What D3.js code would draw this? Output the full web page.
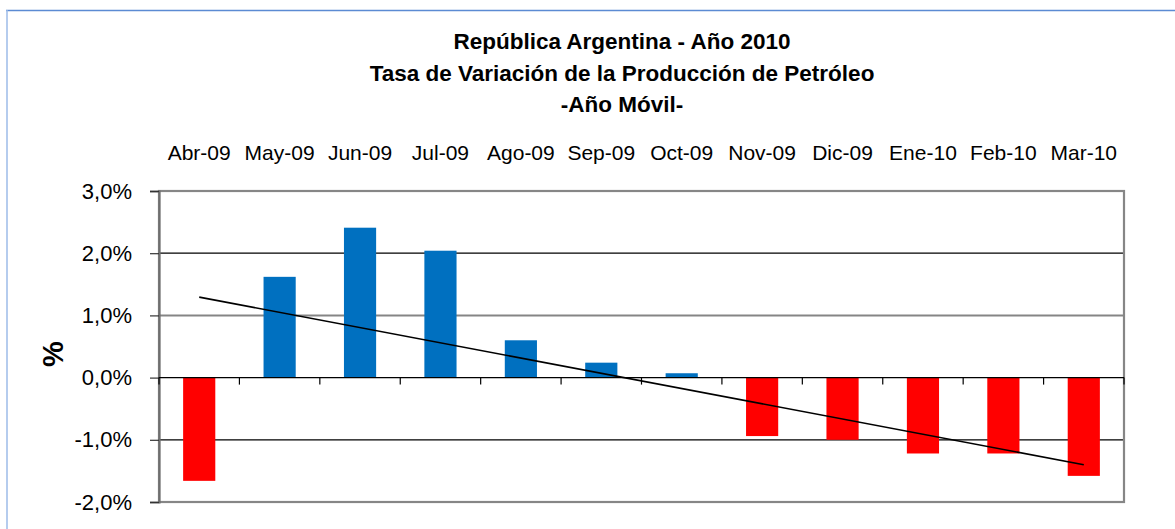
<!DOCTYPE html>
<html>
<head>
<meta charset="utf-8">
<script src="https://cdn.jsdelivr.net/npm/d3@7"></script>
<style>
  body { margin: 0; background: #fff; }
  text { font-family: "Liberation Sans", Arial, sans-serif; fill: #000; }
</style>
</head>
<body>
<div id="chart"></div>
<script>
// data
const months = ["Abr-09", "May-09", "Jun-09", "Jul-09", "Ago-09", "Sep-09",
                "Oct-09", "Nov-09", "Dic-09", "Ene-10", "Feb-10", "Mar-10"];
const variation = [-1.66, 1.62, 2.41, 2.04, 0.60, 0.24, 0.07, -0.94, -1.00, -1.22, -1.22, -1.58];
const yTicks = [3, 2, 1, 0, -1, -2];
const titleLines = ["República Argentina - Año 2010",
                    "Tasa de Variación de la Producción de Petróleo",
                    "-Año Móvil-"];

const width = 1175, height = 529;
const plot = { left: 159, right: 1124, top: 191, bottom: 502 };

const svg = d3.select("#chart").append("svg")
  .attr("width", width)
  .attr("height", height);

// outer chart frame (only top + left visible in the crop)
svg.append("line")
  .attr("x1", 6).attr("x2", width).attr("y1", 10.5).attr("y2", 10.5)
  .attr("stroke", "#5b8bd3").attr("stroke-width", 1.5);
svg.append("line")
  .attr("x1", 7).attr("x2", 7).attr("y1", 10).attr("y2", height)
  .attr("stroke", "#9dbbe8").attr("stroke-width", 1.5);

// title
svg.append("g").selectAll("text")
  .data(titleLines).enter().append("text")
  .attr("x", 622)
  .attr("y", (d, i) => 49 + i * 31.7)
  .attr("text-anchor", "middle")
  .attr("font-size", 22.5)
  .attr("font-weight", "bold")
  .text(d => d);

const x = d3.scaleBand()
  .domain(months)
  .range([plot.left, plot.right])
  .paddingInner(0.6)
  .paddingOuter(0.3);

const y = d3.scaleLinear()
  .domain([-2, 3])
  .range([plot.bottom, plot.top]);

// gridlines (the reference renders some darker than others)
const gridStyle = { 2: ["#000", 1.2], 1: ["#858585", 2], "-1": ["#000", 1.2] };
svg.append("g").selectAll("line")
  .data(yTicks.filter(d => d !== 0 && d !== 3 && d !== -2)).enter().append("line")
  .attr("x1", plot.left).attr("x2", plot.right)
  .attr("y1", d => y(d)).attr("y2", d => y(d))
  .attr("stroke", d => gridStyle[d][0])
  .attr("stroke-width", d => gridStyle[d][1]);

// bars
svg.append("g").selectAll("rect")
  .data(months).enter().append("rect")
  .attr("x", d => x(d))
  .attr("width", x.bandwidth())
  .attr("y", (d, i) => y(Math.max(0, variation[i])))
  .attr("height", (d, i) => Math.abs(y(variation[i]) - y(0)))
  .attr("fill", (d, i) => variation[i] >= 0 ? "#0070c0" : "#ff0000");

// plot area frame
svg.append("rect")
  .attr("x", plot.left).attr("y", plot.top)
  .attr("width", plot.right - plot.left)
  .attr("height", plot.bottom - plot.top)
  .attr("fill", "none")
  .attr("stroke", "#868686")
  .attr("stroke-width", 2.2);

// y axis
const fmt = d => d3.format(".1f")(d).replace("−", "-").replace(".", ",") + "%";
const yAxis = svg.append("g")
  .attr("transform", `translate(${plot.left}, 0)`)
  .call(d3.axisLeft(y)
    .tickValues(yTicks)
    .tickSize(9)
    .tickPadding(18)
    .tickFormat(fmt));
yAxis.select(".domain").attr("stroke", "#6e6e6e").attr("stroke-width", 2.2);
yAxis.selectAll(".tick line").attr("stroke", "#333").attr("stroke-width", 1.2);
yAxis.selectAll(".tick text")
  .attr("font-size", 22)
  .attr("font-family", "'Liberation Sans', Arial, sans-serif")
  .attr("fill", "#000");

// zero axis with category separators
const boundaries = d3.range(months.length + 1).map(i => plot.left + i * x.step());
const zeroAxis = svg.append("g");
zeroAxis.append("line")
  .attr("x1", plot.left).attr("x2", plot.right)
  .attr("y1", y(0)).attr("y2", y(0))
  .attr("stroke", "#000").attr("stroke-width", 1.2);
zeroAxis.selectAll(".sep")
  .data(boundaries).enter().append("line")
  .attr("class", "sep")
  .attr("x1", d => d).attr("x2", d => d)
  .attr("y1", y(0)).attr("y2", y(0) + 7)
  .attr("stroke", "#000").attr("stroke-width", 1.2);

// category labels above the plot
svg.append("g").selectAll("text")
  .data(months).enter().append("text")
  .attr("x", d => x(d) + x.bandwidth() / 2)
  .attr("y", 160)
  .attr("text-anchor", "middle")
  .attr("font-size", 21)
  .text(d => d);

// linear trend (least squares on the series)
const idx = d3.range(variation.length);
const mx = d3.mean(idx), my = d3.mean(variation);
const slope = d3.sum(idx, i => (i - mx) * (variation[i] - my)) / d3.sum(idx, i => (i - mx) ** 2);
const trend = idx.map(i => [months[i], my + slope * (i - mx)]);

svg.append("path")
  .datum([trend[0], trend[trend.length - 1]])
  .attr("d", d3.line()
    .x(d => x(d[0]) + x.bandwidth() / 2)
    .y(d => y(d[1])))
  .attr("fill", "none")
  .attr("stroke", "#000")
  .attr("stroke-width", 1.6);

// y axis title
svg.append("text")
  .attr("transform", "translate(63, 354) rotate(-90)")
  .attr("text-anchor", "middle")
  .attr("font-size", 29)
  .attr("font-weight", "bold")
  .text("%");
</script>
</body>
</html>
